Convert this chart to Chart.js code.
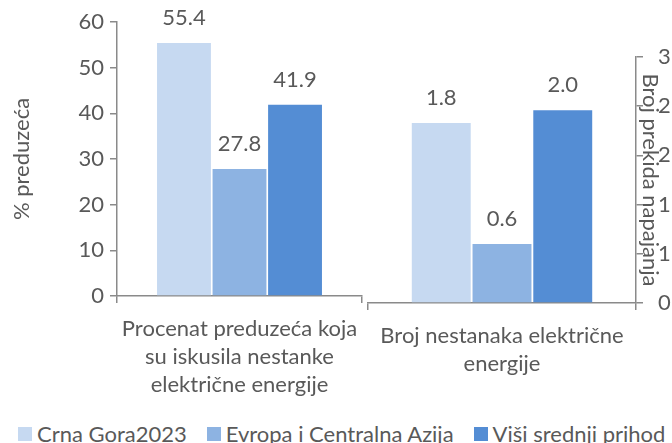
<!DOCTYPE html>
<html>
<head>
<meta charset="utf-8">
<script src="https://cdn.jsdelivr.net/npm/chart.js@4.4.1/dist/chart.umd.min.js"></script>
<style>
  html, body { margin: 0; padding: 0; width: 672px; height: 443px; overflow: hidden; background: #fff; }
  #left { position: absolute; left: 0; top: 0; width: 365px; height: 410px; }
  #right { position: absolute; left: 362px; top: 0; width: 340px; height: 410px; }
  #legend { position: absolute; left: 18px; top: 423px; display: flex; align-items: center; gap: 20px;
    font: 22px/22px Lato, sans-serif; color: #595959; white-space: nowrap; }
  .item { display: flex; align-items: center; gap: 5px; }
  .box { width: 14px; height: 14px; }
</style>
</head>
<body>
<div id="left"><canvas id="shareChart"></canvas></div>
<div id="right"><canvas id="countChart"></canvas></div>
<div id="legend"></div>
<script>
const seriesNames = ["Crna Gora2023", "Evropa i Centralna Azija", "Viši srednji prihod"];
const seriesColors = ["#C6D9F1", "#8DB3E2", "#548DD4"];

// lijevi panel: % preduzeća
const shareLabel = [["Procenat preduzeća koja", "su iskusila nestanke", "električne energije"]];
const shareValues = [55.4, 27.8, 41.9];

// desni panel: broj prekida napajanja
const countLabel = [["Broj nestanaka električne", "energije"]];
const countValues = [1.83, 0.6, 1.96];

const textColor = "#595959";
const axisColor = "#8a8a8a";

Chart.defaults.font.family = "Lato";
Chart.defaults.font.size = 22;
Chart.defaults.color = textColor;

// ▼ vrijednosti iznad stubova
const barLabels = {
  id: "barLabels",
  afterDatasetsDraw(chart) {
    const { ctx } = chart;
    ctx.save();
    ctx.font = "22px Lato";
    ctx.fillStyle = textColor;
    ctx.textAlign = "center";
    ctx.textBaseline = "middle";
    chart.data.datasets.forEach((ds, i) => {
      chart.getDatasetMeta(i).data.forEach((bar, j) => {
        ctx.fillText(ds.data[j].toFixed(1), bar.x, bar.y - 25);
      });
    });
    ctx.restore();
  },
};

function makeDatasets(values) {
  return seriesNames.map((name, i) => ({
    label: name,
    data: [values[i]],
    backgroundColor: seriesColors[i],
    categoryPercentage: 0.68,
    barPercentage: 0.97,
  }));
}

function xAxis(height) {
  return {
    grid: { drawOnChartArea: false, tickLength: 7, color: axisColor, lineWidth: 1.5, offset: true },
    border: { color: axisColor, width: 1.5 },
    ticks: { padding: 12, maxRotation: 0, autoSkip: false, font: { lineHeight: 1.27 } },
    afterFit: (s) => {
      s.height = height;
      // natpis kategorije ne smije suziti panel
      s.paddingLeft = 0;
      s.paddingRight = 0;
    },
  };
}

new Chart(document.getElementById("shareChart"), {
  type: "bar",
  data: { labels: shareLabel, datasets: makeDatasets(shareValues) },
  options: {
    responsive: true,
    maintainAspectRatio: false,
    animation: false,
    layout: { padding: { top: 22, right: 3, left: 0, bottom: 0 } },
    plugins: { legend: { display: false }, tooltip: { enabled: false } },
    scales: {
      x: xAxis(114),
      y: {
        min: 0,
        max: 60,
        ticks: { stepSize: 10, padding: 6 },
        grid: { drawOnChartArea: false, tickLength: 7, color: axisColor, lineWidth: 1.5 },
        border: { color: axisColor, width: 1.5 },
        title: { display: true, text: "% preduzeća", padding: { top: 9, bottom: 0 } },
        afterFit: (s) => { s.width = 117; },
      },
    },
  },
  plugins: [barLabels],
});

new Chart(document.getElementById("countChart"), {
  type: "bar",
  data: { labels: countLabel, datasets: makeDatasets(countValues) },
  options: {
    responsive: true,
    maintainAspectRatio: false,
    animation: false,
    layout: { padding: { top: 57, right: 0, left: 6, bottom: 0 } },
    plugins: { legend: { display: false }, tooltip: { enabled: false } },
    scales: {
      x: xAxis(107),
      y: {
        position: "right",
        min: 0,
        max: 2.5,
        ticks: { stepSize: 0.5, padding: 15, callback: (v) => Math.round(v) },
        grid: { drawOnChartArea: false, tickLength: 7, color: axisColor, lineWidth: 1.5 },
        border: { color: axisColor, width: 1.5 },
        title: { display: true, text: "Broj prekida napajanja", padding: { top: 39, bottom: 0 } },
        afterFit: (s) => { s.width = 66; },
      },
    },
  },
  plugins: [barLabels],
});

// ▼ legenda ispod oba panela
document.getElementById("legend").innerHTML = seriesNames
  .map((name, i) => `<span class="item"><span class="box" style="background:${seriesColors[i]}"></span>${name}</span>`)
  .join("");
</script>
</body>
</html>
